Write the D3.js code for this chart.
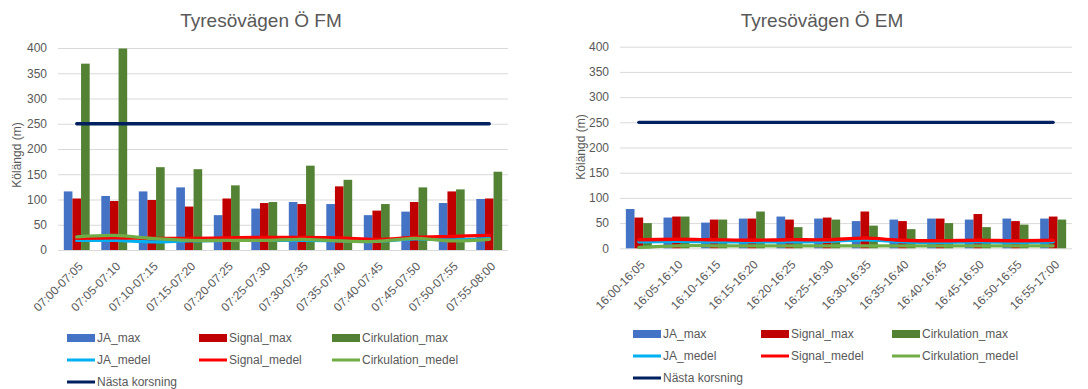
<!DOCTYPE html>
<html>
<head>
<meta charset="utf-8">
<script src="https://cdn.jsdelivr.net/npm/d3@7"></script>
<style>
  body { margin: 0; background: #fff; }
  svg { display: block; font-family: "Liberation Sans", Arial, sans-serif; }
</style>
</head>
<body>
<svg id="chart" width="1088" height="389"></svg>
<script>
// categories
const FM_CATS = ["07:00-07:05","07:05-07:10","07:10-07:15","07:15-07:20","07:20-07:25","07:25-07:30",
                 "07:30-07:35","07:35-07:40","07:40-07:45","07:45-07:50","07:50-07:55","07:55-08:00"];
const EM_CATS = ["16:00-16:05","16:05-16:10","16:10-16:15","16:15-16:20","16:20-16:25","16:25-16:30",
                 "16:30-16:35","16:35-16:40","16:40-16:45","16:45-16:50","16:50-16:55","16:55-17:00"];

// FM (morning) values
const FM_JA_MAX    = [116, 107, 116, 124, 69, 82, 95, 91, 69, 76, 93, 101];
const FM_SIG_MAX   = [102, 97, 99, 86, 102, 93, 91, 126, 78, 95, 116, 102];
const FM_CIRK_MAX  = [369, 399, 164, 160, 128, 95, 167, 139, 91, 124, 120, 155];
const FM_JA_MED    = [19, 19, 16, 18, 19, 19, 19, 18, 17, 22, 20, 23];
const FM_SIG_MED   = [23, 24, 23, 23, 24, 25, 25, 24, 21, 25, 27, 29];
const FM_CIRK_MED  = [26, 29, 23, 19, 19, 19, 21, 18, 17, 23, 18, 21];

// EM (evening) values
const EM_JA_MAX    = [78, 61, 51, 59, 63, 59, 54, 57, 59, 57, 59, 59];
const EM_SIG_MAX   = [61, 63, 57, 59, 57, 61, 73, 54, 59, 68, 54, 63];
const EM_CIRK_MAX  = [50, 63, 57, 73, 42, 57, 45, 38, 50, 42, 47, 57];
const EM_JA_MED    = [13, 14, 13, 13, 13, 14, 17, 13, 12, 13, 12, 13];
const EM_SIG_MED   = [17, 18, 17, 16, 17, 17, 20, 16, 15, 16, 15, 16];
const EM_CIRK_MED  = [2, 5, 5, 5, 5, 5, 5, 5, 5, 5, 5, 5];

const NASTA = 250;
const Y_TICKS = [0, 50, 100, 150, 200, 250, 300, 350, 400];

const BAR_SERIES  = ["JA_max", "Signal_max", "Cirkulation_max"];
const LINE_SERIES = ["JA_medel", "Signal_medel", "Cirkulation_medel"];
const COLORS = {
    JA_max: "#4472C4", Signal_max: "#C00000", Cirkulation_max: "#548235",
    JA_medel: "#00B0F0", Signal_medel: "#FF0000", Cirkulation_medel: "#70AD47",
    "Nästa korsning": "#002060"
};

const svg = d3.select("#chart");
const TXT = "#595959";

function drawChart(cfg) {
    const g = svg.append("g");

    const x = d3.scaleBand().domain(cfg.cats).range([cfg.left, cfg.right]).padding(0);
    const bw = x.bandwidth();
    const gap = bw * 0.155;
    const xs = d3.scaleBand().domain(BAR_SERIES).range([gap, bw - gap]).padding(0);
    const y = d3.scaleLinear().domain([0, 400]).range([cfg.bottom, cfg.top]);

    // title
    g.append("text")
        .attr("x", cfg.titleX).attr("y", 27)
        .attr("text-anchor", "middle")
        .attr("font-size", "19px").attr("fill", TXT)
        .text(cfg.title);

    // gridlines + y ticks
    g.append("g")
        .attr("transform", `translate(${cfg.left},0)`)
        .call(d3.axisLeft(y).tickValues(Y_TICKS).tickSize(-(cfg.right - cfg.left)).tickPadding(11))
        .call(ax => ax.select(".domain").remove())
        .call(ax => ax.selectAll(".tick line").attr("stroke", "#d9d9d9"))
        .call(ax => ax.selectAll(".tick text")
            .attr("fill", TXT).attr("font-size", "12px")
            .attr("font-family", "Liberation Sans, Arial, sans-serif"));

    // y title
    g.append("text")
        .attr("transform", `translate(${cfg.yTitleX},${cfg.yTitleY}) rotate(-90)`)
        .attr("text-anchor", "middle")
        .attr("font-size", "12px").attr("fill", TXT)
        .text("Kölängd (m)");

    // bars
    const rows = cfg.cats.map((c, i) => ({
        cat: c, JA_max: cfg.jaMax[i], Signal_max: cfg.sigMax[i], Cirkulation_max: cfg.cirkMax[i]
    }));
    g.append("g").selectAll("g")
        .data(rows)
        .join("g")
        .attr("transform", d => `translate(${x(d.cat)},0)`)
        .selectAll("rect")
        .data(d => BAR_SERIES.map(s => ({ s, v: d[s] })))
        .join("rect")
        .attr("x", d => xs(d.s))
        .attr("width", xs.bandwidth())
        .attr("y", d => y(d.v))
        .attr("height", d => y(0) - y(d.v))
        .attr("fill", d => COLORS[d.s]);

    // smooth lines
    const line = d3.line()
        .x((d, i) => x(cfg.cats[i]) + bw / 2)
        .y(d => y(d))
        .curve(d3.curveCatmullRom);

    const lineData = [
        ["JA_medel", cfg.jaMed],
        ["Signal_medel", cfg.sigMed],
        ["Cirkulation_medel", cfg.cirkMed],
        ["Nästa korsning", cfg.cats.map(() => NASTA)]
    ];
    g.append("g").selectAll("path")
        .data(lineData)
        .join("path")
        .attr("d", d => line(d[1]))
        .attr("fill", "none")
        .attr("stroke", d => COLORS[d[0]])
        .attr("stroke-width", 3.3)
        .attr("stroke-linecap", "round");

    // x labels rotated
    g.append("g").selectAll("text")
        .data(cfg.cats)
        .join("text")
        .attr("transform", d => `translate(${x(d) + bw / 2 + 4},${cfg.bottom + 14}) rotate(-45)`)
        .attr("text-anchor", "end")
        .attr("dy", "0.35em")
        .attr("font-size", "12px").attr("fill", TXT)
        .text(d => d);

    // legend
    const legendItems = [
        ...BAR_SERIES.map((s, i) => ({ s, bar: true, col: i, row: 0 })),
        ...LINE_SERIES.map((s, i) => ({ s, bar: false, col: i, row: 1 })),
        { s: "Nästa korsning", bar: false, col: 0, row: 2 }
    ];
    const lg = g.append("g").selectAll("g")
        .data(legendItems)
        .join("g")
        .attr("transform", d => `translate(${cfg.legCols[d.col]},${cfg.legRows[d.row]})`);
    lg.append("rect")
        .attr("x", 0).attr("width", 28)
        .attr("y", d => d.bar ? -4 : -1.5)
        .attr("height", d => d.bar ? 8 : 3)
        .attr("fill", d => COLORS[d.s]);
    lg.append("text")
        .attr("x", 30).attr("dy", "0.35em")
        .attr("font-size", "12px").attr("fill", TXT)
        .text(d => d.s);
}

drawChart({
    title: "Tyresövägen Ö FM", titleX: 261,
    cats: FM_CATS, left: 58, right: 508, top: 48, bottom: 250,
    yTitleX: 21, yTitleY: 155,
    jaMax: FM_JA_MAX, sigMax: FM_SIG_MAX, cirkMax: FM_CIRK_MAX,
    jaMed: FM_JA_MED, sigMed: FM_SIG_MED, cirkMed: FM_CIRK_MED,
    legCols: [67, 199, 332], legRows: [338, 360, 382]
});

drawChart({
    title: "Tyresövägen Ö EM", titleX: 822,
    cats: EM_CATS, left: 620, right: 1072, top: 46.7, bottom: 248.3,
    yTitleX: 585, yTitleY: 147,
    jaMax: EM_JA_MAX, sigMax: EM_SIG_MAX, cirkMax: EM_CIRK_MAX,
    jaMed: EM_JA_MED, sigMed: EM_SIG_MED, cirkMed: EM_CIRK_MED,
    legCols: [633, 761, 892], legRows: [334, 356, 378]
});
</script>
</body>
</html>
